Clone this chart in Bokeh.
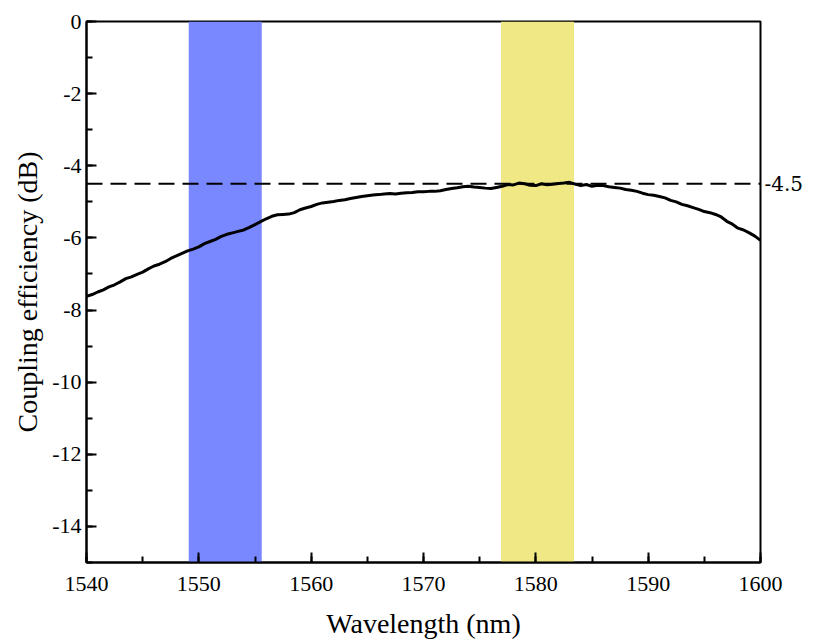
from bokeh.plotting import figure
from bokeh.models import (Range1d, SingleIntervalTicker, FixedTicker, Span, LinearAxis,
                          CustomJSTickFormatter)
from bokeh.embed import file_html
from bokeh.resources import INLINE

wavelength = [1540, 1540.5, 1541, 1541.5, 1542, 1542.5, 1543, 1543.5, 1544, 1544.5,
              1545, 1545.5, 1546, 1546.5, 1547, 1547.5, 1548, 1548.5, 1549, 1549.5,
              1550, 1550.5, 1551, 1551.5, 1552, 1552.5, 1553, 1553.5, 1554, 1554.5,
              1555, 1555.5, 1556, 1556.5, 1557, 1557.5, 1558, 1558.5, 1559, 1559.5,
              1560, 1560.5, 1561, 1561.5, 1562, 1562.5, 1563, 1563.5, 1564, 1564.5,
              1565, 1565.5, 1566, 1566.5, 1567, 1567.5, 1568, 1568.5, 1569, 1569.5,
              1570, 1570.5, 1571, 1571.5, 1572, 1572.5, 1573, 1573.5, 1574, 1574.5,
              1575, 1575.5, 1576, 1576.5, 1577, 1577.5, 1578, 1578.5, 1579, 1579.5,
              1580, 1580.5, 1581, 1581.5, 1582, 1582.5, 1583, 1583.5, 1584, 1584.5,
              1585, 1585.5, 1586, 1586.5, 1587, 1587.5, 1588, 1588.5, 1589, 1589.5,
              1590, 1590.5, 1591, 1591.5, 1592, 1592.5, 1593, 1593.5, 1594, 1594.5,
              1595, 1595.5, 1596, 1596.5, 1597, 1597.5, 1598, 1598.5, 1599, 1599.5,
              1600]
efficiency = [-7.62, -7.57, -7.50, -7.44, -7.36, -7.30, -7.22, -7.13, -7.08, -7.01,
              -6.95, -6.86, -6.78, -6.73, -6.66, -6.57, -6.50, -6.43, -6.36, -6.31,
              -6.25, -6.16, -6.10, -6.04, -5.96, -5.90, -5.86, -5.82, -5.78, -5.71,
              -5.63, -5.55, -5.47, -5.40, -5.36, -5.35, -5.34, -5.30, -5.22, -5.17,
              -5.13, -5.07, -5.03, -5.01, -4.99, -4.96, -4.94, -4.91, -4.88, -4.85,
              -4.83, -4.81, -4.80, -4.78, -4.77, -4.78, -4.76, -4.75, -4.74, -4.72,
              -4.72, -4.71, -4.71, -4.69, -4.66, -4.63, -4.61, -4.58, -4.57, -4.59,
              -4.60, -4.62, -4.63, -4.60, -4.57, -4.52, -4.53, -4.48, -4.50, -4.54,
              -4.55, -4.50, -4.53, -4.51, -4.49, -4.48, -4.46, -4.51, -4.55, -4.52,
              -4.57, -4.54, -4.55, -4.58, -4.60, -4.62, -4.66, -4.68, -4.71, -4.76,
              -4.80, -4.82, -4.85, -4.89, -4.96, -5.00, -5.07, -5.11, -5.16, -5.21,
              -5.27, -5.30, -5.35, -5.42, -5.54, -5.62, -5.73, -5.78, -5.86, -5.95,
              -6.07]

band_left = [1549.1, 1576.9]
band_right = [1555.6, 1583.4]
band_colors = ["#7A88FF", "#EFE885"]
reference_level = -4.5

SERIF = "Liberation Serif"

p = figure(width=806, height=642, output_backend="svg", toolbar_location=None,
           x_range=Range1d(1540, 1600), y_range=Range1d(-15, 0),
           min_border_left=86, min_border_right=46, min_border_top=21, min_border_bottom=80,
           x_axis_label="Wavelength (nm)", y_axis_label="Coupling efficiency (dB)")

p.quad(left=band_left, right=band_right, bottom=-15, top=0, color=band_colors, line_color=None)
p.add_layout(Span(location=reference_level, dimension="width", line_color="black",
                  line_width=2, line_dash="16 8"))
p.line(wavelength, efficiency, line_color="black", line_width=3)

fmt = CustomJSTickFormatter(code="return tick.toString();")

right_axis = LinearAxis(ticker=FixedTicker(ticks=[reference_level]), formatter=fmt)
right_axis.axis_line_color = None
right_axis.major_tick_line_color = None
right_axis.minor_tick_line_color = None
right_axis.major_tick_in = 0
right_axis.major_tick_out = 0
right_axis.minor_tick_in = 0
right_axis.minor_tick_out = 0
right_axis.major_label_standoff = 4
right_axis.major_label_text_font = "DejaVu Serif"
right_axis.major_label_text_font_size = "20px"
right_axis.major_label_text_color = "black"
p.add_layout(right_axis, "right")

p.xgrid.visible = False
p.ygrid.visible = False
p.outline_line_color = "black"
p.outline_line_width = 2
p.outline_line_alpha = 1

xaxis = p.below[0]
yaxis = p.left[0]
xaxis.ticker = SingleIntervalTicker(interval=10, num_minor_ticks=2)
yaxis.ticker = SingleIntervalTicker(interval=2, num_minor_ticks=2)

for ax in (xaxis, yaxis):
    ax.formatter = fmt
    ax.axis_line_width = 2
    ax.major_tick_in = 10
    ax.major_tick_out = 0
    ax.minor_tick_in = 6
    ax.minor_tick_out = 0
    ax.major_tick_line_width = 2
    ax.minor_tick_line_width = 2
    ax.major_label_text_font = SERIF
    ax.major_label_text_font_size = "22px"
    ax.major_label_text_color = "black"
    ax.axis_label_text_font = SERIF
    ax.axis_label_text_font_size = "28px"
    ax.axis_label_text_font_style = "normal"
    ax.axis_label_text_color = "black"

xaxis.major_label_standoff = 14
yaxis.major_label_standoff = 5
xaxis.axis_label_standoff = 14
yaxis.axis_label_standoff = 6

open("out.html", "w").write(file_html(p, INLINE))
